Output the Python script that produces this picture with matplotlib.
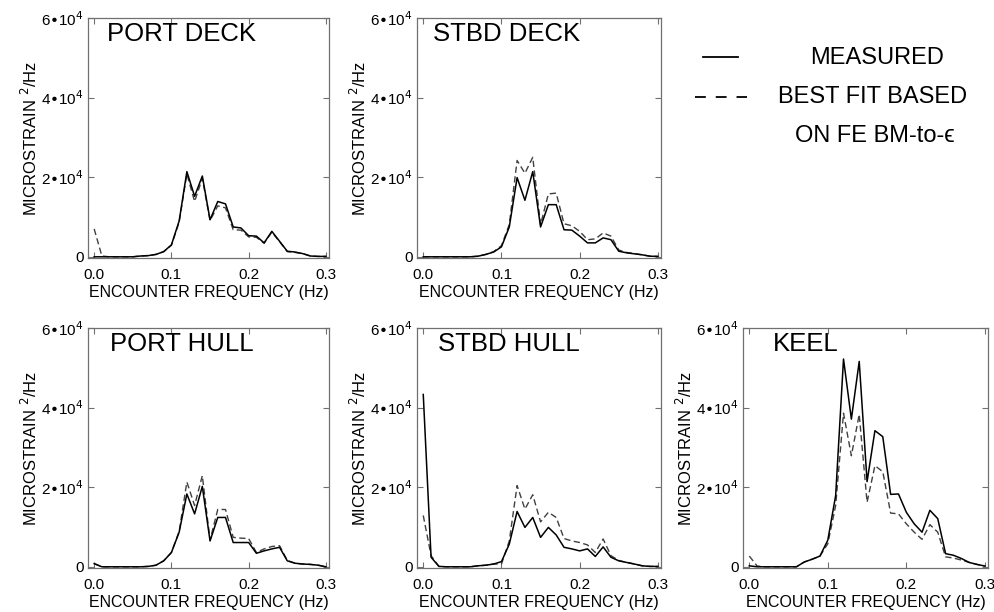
import numpy as np
import matplotlib
matplotlib.use("Agg")
import matplotlib.pyplot as plt
from matplotlib.lines import Line2D

plt.rcParams['font.family'] = ['Liberation Sans', 'DejaVu Sans']

# encounter frequency (Hz), one point every 0.01 Hz
freq = [0.00, 0.01, 0.02, 0.03, 0.04, 0.05, 0.06, 0.07, 0.08, 0.09, 0.10,
        0.11, 0.12, 0.13, 0.14, 0.15, 0.16, 0.17, 0.18, 0.19, 0.20,
        0.21, 0.22, 0.23, 0.24, 0.25, 0.26, 0.27, 0.28, 0.29, 0.30]

# PSD values, microstrain^2/Hz
portDeckMeas = [0, 0, 0, 0, 0, 0, 200, 300, 600, 1300, 3000, 9000, 21400, 15200, 20300, 9300,
                13900, 13300, 7500, 7250, 5300, 5200, 3500, 6400, 3900, 1400, 1200, 800, 200, 100, 100]
portDeckFit = [7000, 200, 0, 0, 0, 0, 200, 300, 600, 1300, 2900, 8700, 20800, 13900, 19700, 9100,
               12800, 12300, 6800, 6700, 5000, 4900, 3400, 6200, 3800, 1300, 1100, 800, 200, 100, 100]

stbdDeckMeas = [0, 0, 0, 0, 0, 0, 0, 150, 600, 1200, 2500, 7500, 19900, 14200, 21400, 7500,
                13100, 13100, 6800, 6700, 5200, 3500, 3500, 4750, 4300, 1400, 1000, 750, 500, 150, 100]
stbdDeckFit = [0, 0, 0, 0, 0, 0, 0, 150, 600, 1300, 2800, 8100, 24200, 21000, 25000, 8100,
               15800, 16000, 8300, 7800, 6400, 4300, 4500, 6000, 5200, 1700, 1100, 800, 500, 150, 100]

portHullMeas = [800, 0, 0, 0, 0, 0, 0, 100, 400, 1500, 3600, 8700, 18300, 13300, 20200, 6500,
                12400, 12400, 6100, 6100, 6100, 3400, 4000, 4500, 4900, 1500, 900, 700, 600, 400, 0]
portHullFit = [800, 0, 0, 0, 0, 0, 0, 100, 400, 1500, 3600, 8900, 21300, 15400, 22900, 6700,
               14400, 14400, 7400, 7200, 7100, 3600, 4500, 5100, 5300, 1600, 900, 700, 600, 400, 0]

stbdHullMeas = [43300, 2400, 100, 0, 0, 0, 0, 250, 400, 700, 1300, 5700, 13900, 9900, 12400, 7400,
                9900, 8000, 4900, 4500, 4000, 4500, 2600, 5000, 2400, 1500, 1100, 700, 250, 100, 100]
stbdHullFit = [12900, 2800, 100, 0, 0, 0, 0, 250, 400, 700, 700, 6500, 20400, 14500, 18100, 11300,
               13700, 12400, 7100, 6500, 6100, 5500, 3600, 7000, 2800, 1600, 1100, 700, 250, 100, 100]

keelMeas = [250, 0, 0, 0, 0, 0, 0, 1200, 1900, 2700, 6700, 17900, 52200, 37100, 51600, 21400,
            34200, 32700, 18200, 18300, 13700, 10800, 8700, 14200, 12100, 3300, 2900, 2100, 1100, 600, 200]
keelFit = [2700, 200, 0, 0, 0, 0, 0, 1200, 1900, 2700, 5800, 15400, 38600, 27900, 38300, 16200,
           25400, 23900, 13500, 13300, 10800, 8700, 6900, 10600, 8700, 2500, 2200, 1700, 1100, 600, 200]

yTicks = [0, 20000, 40000, 60000]
yTickLabels = ['0', r'2•10$^4$', r'4•10$^4$', r'6•10$^4$']
xTicks = [0.0, 0.1, 0.2, 0.3]
xTickLabels = ['0.0', '0.1', '0.2', '0.3']

frameColor = '#707070'


# draws one gauge panel: measured (solid) and best fit (dashed)
def drawPanel(fig, rect, meas, fit, name, nameX):
    ax = fig.add_axes(rect)
    ax.plot(freq, fit, color='#404040', lw=1.0, dashes=(4.5, 2.5))
    ax.plot(freq, meas, color='black', lw=1.1)
    ax.set_xlim(-0.008, 0.304)
    ax.set_ylim(-300, 60000)
    ax.set_xticks(xTicks)
    ax.set_xticklabels(xTickLabels)
    ax.set_yticks(yTicks)
    ax.set_yticklabels(yTickLabels)
    ax.tick_params(direction='in', length=4, width=0.8, color=frameColor,
                   top=True, right=True, labelsize=11, pad=3)
    ax.tick_params(axis='x', pad=7)
    for s in ax.spines.values():
        s.set_color(frameColor)
        s.set_linewidth(0.9)
    ax.set_xlabel('ENCOUNTER FREQUENCY (Hz)', fontsize=11.5, labelpad=2)
    ax.set_ylabel(r'MICROSTRAIN $^2$/Hz', fontsize=12, labelpad=1)
    ax.text(nameX, 0.935, name, transform=ax.transAxes, fontsize=18.5,
            ha='left', va='center')
    return ax


def main():
    fig = plt.figure(figsize=(9.94, 6.12), dpi=100)
    W, H = 994.0, 612.0

    def rect(left, top, right, bottom):
        return [left / W, 1 - bottom / H, (right - left) / W, (bottom - top) / H]

    drawPanel(fig, rect(88, 18, 329, 258), portDeckMeas, portDeckFit, 'PORT DECK', 0.079)
    drawPanel(fig, rect(417, 18, 661, 258), stbdDeckMeas, stbdDeckFit, 'STBD DECK', 0.066)
    drawPanel(fig, rect(88, 328, 329, 568), portHullMeas, portHullFit, 'PORT HULL', 0.09)
    drawPanel(fig, rect(417, 328, 661, 568), stbdHullMeas, stbdHullFit, 'STBD HULL', 0.086)
    drawPanel(fig, rect(743, 328, 988, 568), keelMeas, keelFit, 'KEEL', 0.122)

    # legend, drawn by hand in figure pixels
    def fx(px):
        return px / W

    def fy(py):
        return 1 - py / H

    fig.add_artist(Line2D([fx(703), fx(738)], [fy(57), fy(57)], color='black', lw=1.3))
    fig.add_artist(Line2D([fx(695), fx(747)], [fy(97), fy(97)], color='black', lw=1.3,
                          dashes=(6, 5.5)))
    fig.text(fx(877), fy(58), 'MEASURED', fontsize=17, ha='center', va='center')
    fig.text(fx(873), fy(97), 'BEST FIT BASED', fontsize=17, ha='center', va='center')
    fig.text(fx(875), fy(136), 'ON FE BM-to-\u03f5', fontsize=17, ha='center', va='center')

    fig.savefig('out.png', dpi=100)


if __name__ == '__main__':
    main()
